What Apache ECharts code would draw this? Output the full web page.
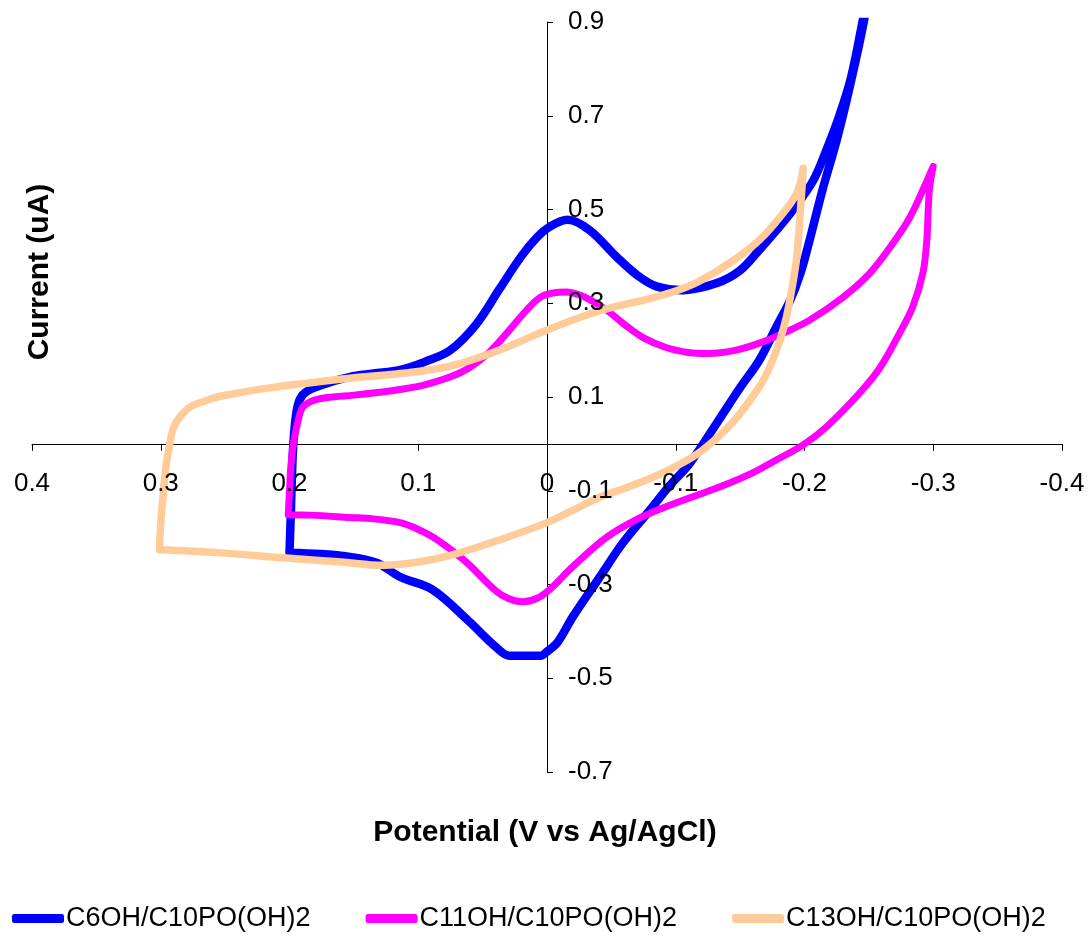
<!DOCTYPE html>
<html>
<head>
<meta charset="utf-8">
<script src="https://cdn.jsdelivr.net/npm/echarts@6/dist/echarts.min.js"></script>
<style>
  html, body { margin: 0; padding: 0; background: #fff; }
  #main { width: 1091px; height: 943px; }
</style>
</head>
<body>
<div id="main"></div>
<script>
// series names shown in the legend
const seriesNames = ['C6OH/C10PO(OH)2', 'C11OH/C10PO(OH)2', 'C13OH/C10PO(OH)2']

// [potential (V), current (uA)], one closed loop per scan
// (switching points are listed twice so the loop keeps its sharp corner)
const c6ohData = [
  [0.200, -0.232], [0.200, -0.232], [0.199, -0.150], [0.198, -0.060], [0.197, 0.000],
  [0.195, 0.060], [0.192, 0.095], [0.186, 0.113], [0.170, 0.130], [0.153, 0.143],
  [0.135, 0.150], [0.114, 0.158], [0.095, 0.175], [0.075, 0.200], [0.055, 0.255],
  [0.037, 0.330], [0.020, 0.400], [0.008, 0.440], [-0.002, 0.463], [-0.016, 0.478],
  [-0.033, 0.456], [-0.054, 0.399], [-0.070, 0.360], [-0.085, 0.336], [-0.106, 0.328],
  [-0.132, 0.343], [-0.150, 0.370], [-0.165, 0.414], [-0.178, 0.455], [-0.191, 0.499],
  [-0.207, 0.563], [-0.217, 0.627], [-0.227, 0.700], [-0.236, 0.780], [-0.245, 0.900],
  [-0.249, 0.960], [-0.249, 0.960],
  [-0.246, 0.900], [-0.235, 0.760], [-0.225, 0.648], [-0.214, 0.542], [-0.204, 0.435],
  [-0.197, 0.365], [-0.189, 0.307], [-0.178, 0.249], [-0.165, 0.179], [-0.150, 0.120],
  [-0.132, 0.045], [-0.111, -0.041], [-0.095, -0.090], [-0.080, -0.141], [-0.059, -0.211],
  [-0.041, -0.284], [-0.020, -0.369], [-0.008, -0.424], [0.000, -0.443], [0.005, -0.452],
  [0.029, -0.452], [0.039, -0.435], [0.062, -0.375], [0.089, -0.311], [0.114, -0.284],
  [0.132, -0.254], [0.153, -0.241], [0.176, -0.235], [0.200, -0.232]
]

const c11ohData = [
  [0.201, -0.151], [0.201, -0.151], [0.200, -0.100], [0.199, -0.050], [0.197, 0.000],
  [0.194, 0.041], [0.190, 0.077], [0.183, 0.091], [0.170, 0.099], [0.150, 0.104],
  [0.130, 0.110], [0.114, 0.116], [0.095, 0.126], [0.075, 0.143], [0.060, 0.163],
  [0.045, 0.195], [0.030, 0.240], [0.016, 0.285], [0.005, 0.313], [-0.005, 0.322],
  [-0.015, 0.324], [-0.025, 0.318], [-0.035, 0.305], [-0.047, 0.284], [-0.060, 0.255],
  [-0.075, 0.226], [-0.093, 0.205], [-0.110, 0.195], [-0.125, 0.193], [-0.145, 0.199],
  [-0.165, 0.215], [-0.185, 0.238], [-0.204, 0.264], [-0.230, 0.313], [-0.251, 0.365],
  [-0.269, 0.429], [-0.282, 0.484], [-0.292, 0.542], [-0.300, 0.592], [-0.300, 0.592],
  [-0.297, 0.542], [-0.295, 0.435], [-0.292, 0.365], [-0.284, 0.292], [-0.274, 0.237],
  [-0.259, 0.164], [-0.243, 0.109], [-0.217, 0.036], [-0.199, -0.002], [-0.177, -0.036],
  [-0.158, -0.064], [-0.134, -0.092], [-0.111, -0.115], [-0.088, -0.139], [-0.072, -0.158],
  [-0.047, -0.198], [-0.020, -0.262], [-0.002, -0.311], [0.008, -0.330], [0.019, -0.337],
  [0.030, -0.330], [0.040, -0.313], [0.062, -0.254], [0.075, -0.225], [0.089, -0.198],
  [0.102, -0.180], [0.114, -0.168], [0.135, -0.160], [0.153, -0.157], [0.184, -0.152],
  [0.201, -0.151]
]

const c13ohData = [
  [0.301, -0.226], [0.301, -0.226], [0.300, -0.170], [0.298, -0.105], [0.296, -0.050],
  [0.293, 0.000], [0.290, 0.035], [0.285, 0.058], [0.277, 0.079], [0.265, 0.092],
  [0.256, 0.100], [0.235, 0.111], [0.217, 0.119], [0.185, 0.130], [0.153, 0.140],
  [0.114, 0.150], [0.075, 0.166], [0.037, 0.200], [0.000, 0.243], [-0.041, 0.284],
  [-0.080, 0.310], [-0.100, 0.326], [-0.119, 0.348], [-0.144, 0.390], [-0.165, 0.435],
  [-0.181, 0.484], [-0.194, 0.535], [-0.199, 0.588], [-0.199, 0.588],
  [-0.197, 0.505], [-0.194, 0.399], [-0.190, 0.328], [-0.186, 0.271], [-0.181, 0.222],
  [-0.173, 0.164], [-0.165, 0.122], [-0.144, 0.045], [-0.120, -0.015], [-0.100, -0.048],
  [-0.080, -0.074], [-0.060, -0.095], [-0.040, -0.115], [-0.020, -0.142], [0.000, -0.168],
  [0.037, -0.205], [0.075, -0.238], [0.100, -0.252], [0.127, -0.259], [0.160, -0.252],
  [0.205, -0.243], [0.256, -0.232], [0.301, -0.226]
]

const seriesColors = ['#0000ff', '#ff00ff', '#ffcc99']
const lineWidths = [8.5, 7, 7.5]

// axis ranges / tick steps
const xMin = -0.4, xMax = 0.4, xStep = 0.1
const yMin = -0.7, yMax = 0.9, yStep = 0.2

const font = "'Liberation Sans', Arial, sans-serif"
const gridBox = { left: 32, right: 29, top: 22, bottom: 171 }

const chart = echarts.init(document.getElementById('main'))

const allData = [c6ohData, c11ohData, c13ohData]
const series = []
allData.forEach(function (d, idx) {
  series.push({
    name: seriesNames[idx],
    type: 'line',
    data: d,
    xAxisIndex: 0,
    yAxisIndex: 0,
    symbol: 'none',
    smooth: 0.35,
    clip: true,
    lineStyle: { color: seriesColors[idx], width: lineWidths[idx], cap: 'round', join: 'round' },
    itemStyle: { color: seriesColors[idx] },
    z: 2 + idx
  })
})

function xLabelFmt (v) { return Math.abs(v) < 1e-9 ? '0' : String(+v.toFixed(1)) }
function yLabelFmt (v) { return String(+v.toFixed(1)) }

// axis 0 draws line + ticks under the curves, axis 1 only the labels on top of them
function makeXAxis (labelsOnly) {
  return {
    type: 'value',
    inverse: true,
    position: 'bottom',
    min: xMin,
    max: xMax,
    interval: xStep,
    z: labelsOnly ? 10 : 0,
    axisLine: { show: !labelsOnly, onZero: false, lineStyle: { color: '#000', width: 1 } },
    axisTick: { show: !labelsOnly, length: 7, lineStyle: { color: '#000' } },
    axisLabel: {
      show: labelsOnly,
      margin: 27,
      color: '#000',
      fontSize: 26,
      fontFamily: font,
      formatter: xLabelFmt
    },
    splitLine: { show: false }
  }
}

function makeYAxis (labelsOnly) {
  return {
    type: 'value',
    position: 'left',
    min: yMin,
    max: yMax,
    interval: yStep,
    z: labelsOnly ? 10 : 0,
    axisLine: { show: !labelsOnly, onZero: false, lineStyle: { color: '#000', width: 1 } },
    axisTick: { show: !labelsOnly, inside: true, length: 6, lineStyle: { color: '#000' } },
    axisLabel: {
      show: labelsOnly,
      inside: true,
      margin: 21,
      color: '#000',
      fontSize: 26,
      fontFamily: font,
      formatter: yLabelFmt
    },
    splitLine: { show: false }
  }
}

const option = {
  animation: false,
  backgroundColor: '#fff',
  grid: Object.assign({ containLabel: false }, gridBox),
  xAxis: [makeXAxis(false), makeXAxis(true)],
  yAxis: [makeYAxis(false), makeYAxis(true)],
  legend: {
    bottom: 6,
    left: 7,
    itemGap: 55,
    itemWidth: 52,
    itemHeight: 9,
    icon: 'roundRect',
    textStyle: { fontSize: 27, fontFamily: font, color: '#000', padding: [0, 0, 0, -3] },
    data: seriesNames
  },
  graphic: [
    {
      type: 'text',
      x: 545,
      y: 833,
      style: {
        text: 'Potential (V vs Ag/AgCl)',
        font: 'bold 30px ' + font,
        fill: '#000',
        align: 'center',
        verticalAlign: 'middle'
      }
    },
    {
      type: 'text',
      x: 40,
      y: 272,
      rotation: Math.PI / 2,
      style: {
        text: 'Current (uA)',
        font: 'bold 30px ' + font,
        fill: '#000',
        align: 'center',
        verticalAlign: 'middle'
      }
    }
  ],
  series: series
}
chart.setOption(option)

// move the axes so they cross at the origin, labels included
const origin = chart.convertToPixel({ gridIndex: 0 }, [0, 0])
const chartH = chart.getHeight()
const xOff = -((chartH - gridBox.bottom) - origin[1])
const yOff = -(origin[0] - gridBox.left)
chart.setOption({
  xAxis: [{ offset: xOff }, { offset: xOff }],
  yAxis: [{ offset: yOff }, { offset: yOff }]
})
</script>
</body>
</html>
